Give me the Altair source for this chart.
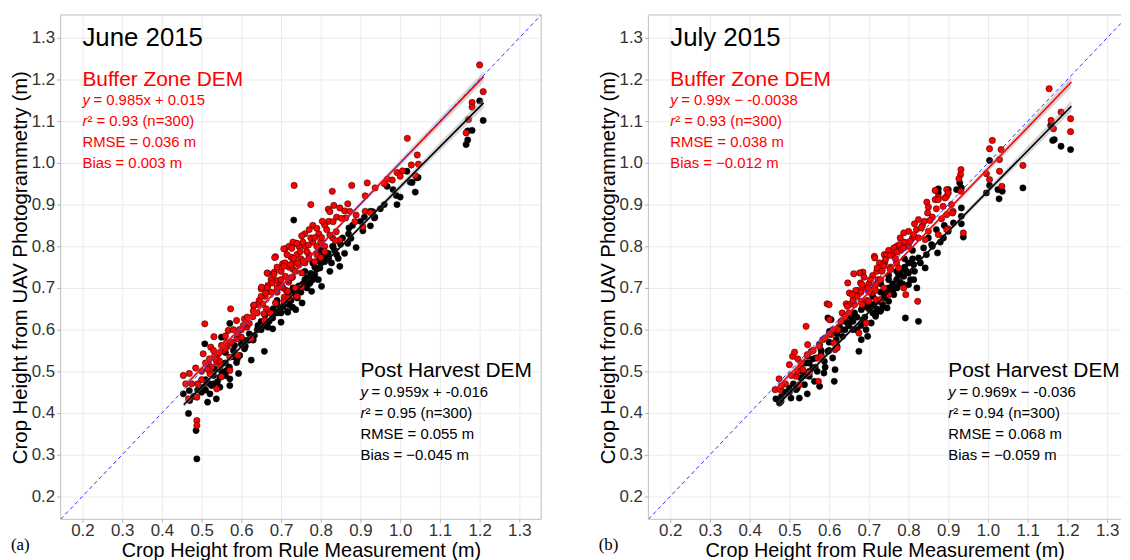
import altair as alt
import pandas as pd

FONT = "Liberation Sans"
SERIF = "Liberation Serif"
RED = "#FF0000"
FRAME = "#BDBDBD"
AX_LO, AX_HI = 0.145, 1.355
TICKS = [0.2, 0.3, 0.4, 0.5, 0.6, 0.7, 0.8, 0.9, 1.0, 1.1, 1.2, 1.3]
X_TITLE = "Crop Height from Rule Measurement (m)"
Y_TITLE = "Crop Height from UAV Photogrammetry (m)"

# ---------------- Panel (a) June 2015 : (rule, UAV) pairs
june_post = [
    (0.488, 0.290), (0.486, 0.358), (0.467, 0.399), (0.454, 0.446), (0.469, 0.454), (0.515, 0.426),
    (0.537, 0.434), (0.521, 0.446), (0.504, 0.462), (0.525, 0.466), (0.546, 0.462), (0.571, 0.466),
    (0.571, 0.482), (0.593, 0.495), (0.508, 0.566), (0.571, 0.615), (0.550, 0.582), (0.583, 0.562),
    (0.608, 0.554), (0.625, 0.527), (0.658, 0.548), (0.633, 0.586), (0.642, 0.610), (0.667, 0.606),
    (0.679, 0.628), (0.700, 0.618), (0.679, 0.602), (0.613, 0.574), (0.596, 0.538), (0.563, 0.502),
    (0.546, 0.486), (0.588, 0.521), (0.717, 0.642), (0.729, 0.654), (0.696, 0.646), (0.708, 0.662),
    (0.725, 0.670), (0.738, 0.682), (0.533, 0.506), (0.513, 0.474),
    (0.690, 0.660), (0.710, 0.670), (0.720, 0.690), (0.745, 0.705), (0.760, 0.720), (0.775, 0.735),
    (0.790, 0.745), (0.800, 0.760), (0.680, 0.650), (0.650, 0.620), (0.660, 0.635), (0.620, 0.590),
    (0.600, 0.565), (0.580, 0.550), (0.560, 0.520), (0.805, 0.775), (0.835, 0.790), (0.850, 0.805),
    (0.550, 0.500), (0.530, 0.490), (0.500, 0.450), (0.480, 0.440), (0.510, 0.480), (0.640, 0.600),
    (0.750, 0.690), (0.770, 0.710), (0.730, 0.700), (0.700, 0.640),
    (0.470, 0.430), (0.490, 0.455), (0.520, 0.470), (0.540, 0.475), (0.560, 0.490), (0.570, 0.510),
    (0.590, 0.530), (0.610, 0.560), (0.630, 0.575), (0.650, 0.600), (0.670, 0.620), (0.690, 0.640),
    (0.705, 0.655), (0.715, 0.680), (0.735, 0.690), (0.755, 0.710), (0.765, 0.725), (0.780, 0.720),
    (0.785, 0.750), (0.795, 0.765), (0.810, 0.780), (0.820, 0.770), (0.830, 0.800), (0.840, 0.780),
    (0.855, 0.820), (0.870, 0.830), (0.880, 0.850), (0.900, 0.860), (0.910, 0.870), (0.720, 0.660),
    (0.740, 0.700), (0.760, 0.740), (0.780, 0.760), (0.800, 0.790), (0.690, 0.670), (0.660, 0.610),
    (0.620, 0.575), (0.600, 0.580), (0.580, 0.535), (0.560, 0.545), (0.530, 0.470), (0.510, 0.455),
    (0.732, 0.863), (0.871, 0.844), (0.906, 0.837), (0.931, 0.883), (0.889, 0.797), (0.844, 0.771),
    (0.868, 0.807), (0.831, 0.799), (0.819, 0.783), (0.848, 0.752), (0.827, 0.760), (0.798, 0.748),
    (0.785, 0.732), (0.794, 0.720), (0.773, 0.712), (0.765, 0.700), (0.777, 0.692), (0.753, 0.664),
    (0.741, 0.676), (0.737, 0.648), (0.716, 0.644), (0.682, 0.640), (0.810, 0.763), (0.823, 0.740),
    (0.802, 0.704), (0.860, 0.783), (0.876, 0.819),
    (1.017, 0.980), (1.025, 0.954), (1.042, 0.964), (1.038, 0.930), (0.967, 0.944), (0.982, 0.936),
    (0.990, 0.922), (1.000, 0.918), (0.992, 0.900), (0.925, 0.884), (0.935, 0.868), (0.925, 0.849),
    (1.200, 1.149), (1.209, 1.102), (1.181, 1.078), (1.170, 1.077), (1.170, 1.055), (1.166, 1.044),
    (1.045, 0.965), (1.030, 0.953), (0.936, 0.870), (0.950, 0.890), (0.960, 0.900),
]
june_buffer = [
    (0.488, 0.382), (0.488, 0.370), (0.454, 0.490), (0.469, 0.495), (0.485, 0.508), (0.467, 0.434),
    (0.488, 0.438), (0.508, 0.614), (0.504, 0.542), (0.531, 0.583), (0.523, 0.558), (0.533, 0.538),
    (0.517, 0.518), (0.521, 0.494), (0.538, 0.522), (0.548, 0.514), (0.550, 0.487), (0.538, 0.458),
    (0.550, 0.562), (0.567, 0.598), (0.573, 0.650), (0.563, 0.570), (0.571, 0.534), (0.571, 0.502),
    (0.592, 0.538), (0.589, 0.578), (0.588, 0.622), (0.600, 0.582), (0.608, 0.626), (0.614, 0.606),
    (0.629, 0.631), (0.631, 0.658), (0.625, 0.578), (0.650, 0.698), (0.654, 0.662), (0.663, 0.650),
    (0.658, 0.622), (0.667, 0.706), (0.688, 0.718), (0.683, 0.738), (0.686, 0.775), (0.667, 0.735),
    (0.704, 0.758), (0.710, 0.794), (0.725, 0.774), (0.738, 0.807), (0.729, 0.726), (0.713, 0.694),
    (0.708, 0.678), (0.696, 0.706), (0.719, 0.714),
    (0.500, 0.500), (0.510, 0.520), (0.520, 0.530), (0.530, 0.550), (0.540, 0.540), (0.545, 0.525),
    (0.555, 0.550), (0.560, 0.585), (0.565, 0.560), (0.580, 0.600), (0.595, 0.600), (0.605, 0.610),
    (0.620, 0.615), (0.640, 0.640), (0.645, 0.670), (0.660, 0.680), (0.675, 0.690), (0.690, 0.700),
    (0.700, 0.720), (0.720, 0.750), (0.730, 0.760), (0.740, 0.780), (0.750, 0.770), (0.760, 0.800),
    (0.770, 0.780), (0.780, 0.810), (0.790, 0.800),
    (0.700, 0.740), (0.710, 0.760), (0.715, 0.780), (0.720, 0.800), (0.730, 0.810), (0.745, 0.800),
    (0.755, 0.810), (0.760, 0.830), (0.775, 0.820), (0.780, 0.850), (0.795, 0.830), (0.800, 0.810),
    (0.815, 0.840), (0.820, 0.860), (0.840, 0.870), (0.860, 0.885), (0.690, 0.750), (0.675, 0.720),
    (0.665, 0.700), (0.650, 0.680), (0.640, 0.660), (0.630, 0.645), (0.615, 0.630), (0.600, 0.600),
    (0.590, 0.590), (0.575, 0.570), (0.560, 0.555), (0.545, 0.545), (0.535, 0.530), (0.525, 0.510),
    (0.515, 0.505), (0.500, 0.480), (0.490, 0.470), (0.475, 0.470), (0.460, 0.470), (0.730, 0.745),
    (0.745, 0.755), (0.760, 0.760), (0.770, 0.770), (0.790, 0.780), (0.810, 0.800), (0.830, 0.820),
    (0.690, 0.690), (0.705, 0.700), (0.720, 0.720),
    (0.733, 0.946), (0.775, 0.900), (0.829, 0.932), (0.878, 0.946), (0.917, 0.952), (0.912, 0.921),
    (0.937, 0.940), (0.833, 0.898), (0.819, 0.889), (0.823, 0.883), (0.848, 0.892), (0.868, 0.902),
    (0.873, 0.884), (0.889, 0.875), (0.912, 0.884), (0.886, 0.859), (0.906, 0.847), (0.863, 0.868),
    (0.852, 0.867), (0.831, 0.859), (0.810, 0.851), (0.804, 0.860), (0.790, 0.843), (0.771, 0.840),
    (0.785, 0.821), (0.802, 0.821), (0.823, 0.827), (0.839, 0.835), (0.848, 0.815), (0.837, 0.813),
    (0.752, 0.825), (0.740, 0.807), (0.769, 0.803), (0.765, 0.787), (0.748, 0.787), (0.727, 0.795),
    (0.707, 0.794), (0.684, 0.773), (0.707, 0.752), (0.732, 0.771), (0.724, 0.756), (0.742, 0.760),
    (0.756, 0.765), (0.785, 0.763), (0.800, 0.773), (0.810, 0.787), (0.736, 0.740), (0.752, 0.736),
    (0.726, 0.725), (0.711, 0.728), (0.702, 0.704), (0.682, 0.733), (0.665, 0.736), (0.678, 0.712),
    (0.651, 0.702), (0.661, 0.688), (0.632, 0.659), (0.657, 0.638), (0.673, 0.640), (0.686, 0.664),
    (0.717, 0.692), (0.719, 0.676), (0.736, 0.700), (0.752, 0.702), (0.740, 0.680), (0.707, 0.668),
    (1.200, 1.235), (1.209, 1.171), (1.181, 1.145), (1.181, 1.134), (1.172, 1.104), (1.166, 1.072),
    (1.018, 1.059), (1.043, 1.019), (1.046, 0.997), (1.028, 0.995), (1.006, 0.981), (0.992, 0.977),
    (0.980, 0.959), (0.968, 0.961), (1.000, 0.968), (0.925, 0.881), (1.038, 0.970), (0.960, 0.950),
]

# ---------------- Panel (b) July 2015
july_post = [
    (0.466, 0.434), (0.475, 0.424), (0.479, 0.428), (0.504, 0.436), (0.525, 0.436), (0.517, 0.456),
    (0.545, 0.446), (0.538, 0.468), (0.529, 0.484), (0.550, 0.488), (0.563, 0.476), (0.576, 0.464),
    (0.559, 0.508), (0.542, 0.520), (0.546, 0.536), (0.567, 0.532), (0.588, 0.524), (0.587, 0.496),
    (0.613, 0.476), (0.615, 0.504), (0.609, 0.532), (0.597, 0.548), (0.576, 0.564), (0.601, 0.596),
    (0.618, 0.576), (0.634, 0.584), (0.626, 0.608), (0.647, 0.616), (0.655, 0.630), (0.664, 0.640),
    (0.675, 0.548), (0.697, 0.584), (0.681, 0.576), (0.693, 0.600), (0.706, 0.616), (0.685, 0.624),
    (0.681, 0.648), (0.702, 0.654), (0.718, 0.640), (0.731, 0.648), (0.727, 0.668), (0.739, 0.676),
    (0.597, 0.628), (0.605, 0.624),
    (0.875, 0.938), (0.900, 0.936), (0.921, 0.936), (0.913, 0.856), (0.900, 0.836), (0.888, 0.820),
    (0.873, 0.784), (0.858, 0.804), (0.838, 0.796), (0.842, 0.748), (0.825, 0.772), (0.813, 0.756),
    (0.800, 0.736), (0.788, 0.728), (0.779, 0.712), (0.800, 0.708), (0.771, 0.700), (0.763, 0.684),
    (0.750, 0.668), (0.746, 0.652), (0.729, 0.644), (0.717, 0.632), (0.792, 0.628), (0.825, 0.620),
    (0.813, 0.720), (0.821, 0.700),
    (1.158, 1.090), (1.163, 1.054), (1.167, 1.056), (1.184, 1.040), (1.208, 1.032), (1.004, 1.006),
    (1.004, 0.946), (1.025, 0.936), (1.036, 0.932), (1.028, 0.914), (1.088, 0.940), (0.933, 0.940),
    (0.929, 0.952), (0.933, 0.892), (0.933, 0.872), (0.933, 0.854), (0.938, 0.822), (0.996, 0.928),
    (0.875, 0.928),
    (0.620, 0.590), (0.640, 0.600), (0.660, 0.620), (0.670, 0.600), (0.690, 0.630), (0.710, 0.660),
    (0.720, 0.670), (0.730, 0.690), (0.750, 0.700), (0.760, 0.710), (0.770, 0.720), (0.780, 0.740),
    (0.790, 0.750), (0.800, 0.760), (0.810, 0.770), (0.740, 0.680), (0.760, 0.690), (0.580, 0.550),
    (0.560, 0.530), (0.530, 0.500), (0.510, 0.470), (0.490, 0.450), (0.500, 0.460), (0.550, 0.520),
    (0.600, 0.570), (0.650, 0.610), (0.700, 0.650), (0.750, 0.720), (0.850, 0.820), (0.870, 0.840),
    (0.480, 0.440), (0.500, 0.450), (0.520, 0.460), (0.540, 0.490), (0.570, 0.500), (0.590, 0.510),
    (0.600, 0.550), (0.620, 0.560), (0.630, 0.600), (0.660, 0.600), (0.680, 0.610), (0.690, 0.655),
    (0.710, 0.640), (0.720, 0.650), (0.735, 0.660), (0.745, 0.690), (0.755, 0.695), (0.765, 0.700),
    (0.775, 0.730), (0.785, 0.710), (0.795, 0.740), (0.805, 0.720), (0.815, 0.740), (0.830, 0.760),
    (0.845, 0.780), (0.860, 0.800), (0.880, 0.810), (0.890, 0.850), (0.710, 0.680), (0.730, 0.710),
    (0.750, 0.730), (0.770, 0.740), (0.790, 0.770), (0.810, 0.790), (0.550, 0.500), (0.565, 0.510),
    (0.580, 0.540), (0.640, 0.620), (0.670, 0.630),
]
july_buffer = [
    (0.464, 0.456), (0.477, 0.456), (0.474, 0.482), (0.500, 0.516), (0.508, 0.536), (0.513, 0.546),
    (0.521, 0.530), (0.529, 0.510), (0.517, 0.488), (0.525, 0.468), (0.534, 0.504), (0.546, 0.564),
    (0.542, 0.608), (0.555, 0.548), (0.550, 0.496), (0.571, 0.532), (0.580, 0.536), (0.573, 0.476),
    (0.595, 0.662), (0.601, 0.624), (0.584, 0.576), (0.612, 0.568), (0.615, 0.552), (0.620, 0.556),
    (0.605, 0.588), (0.622, 0.600), (0.633, 0.640), (0.643, 0.662), (0.651, 0.688), (0.647, 0.712),
    (0.662, 0.734), (0.674, 0.694), (0.664, 0.660), (0.685, 0.738), (0.679, 0.712), (0.681, 0.668),
    (0.695, 0.670), (0.708, 0.688), (0.714, 0.776), (0.727, 0.760), (0.702, 0.696), (0.693, 0.616),
    (0.675, 0.592), (0.651, 0.660), (0.718, 0.672), (0.739, 0.780), (0.723, 0.720),
    (0.700, 0.710), (0.710, 0.730), (0.720, 0.740), (0.730, 0.750), (0.740, 0.760), (0.745, 0.780),
    (0.760, 0.780), (0.770, 0.800), (0.780, 0.790), (0.790, 0.810), (0.800, 0.800), (0.810, 0.820),
    (0.820, 0.840), (0.835, 0.850), (0.840, 0.860), (0.860, 0.870), (0.870, 0.890), (0.690, 0.700),
    (0.680, 0.690), (0.670, 0.680), (0.660, 0.670), (0.650, 0.640), (0.640, 0.630), (0.630, 0.620),
    (0.610, 0.600), (0.600, 0.590), (0.590, 0.580), (0.575, 0.560), (0.560, 0.550), (0.545, 0.540),
    (0.530, 0.520), (0.520, 0.500), (0.505, 0.490), (0.490, 0.470), (0.480, 0.465), (0.700, 0.690),
    (0.715, 0.700), (0.730, 0.720), (0.755, 0.750), (0.770, 0.760),
    (0.867, 0.934), (0.875, 0.918), (0.896, 0.920), (0.867, 0.912), (0.846, 0.906), (0.850, 0.894),
    (0.848, 0.880), (0.887, 0.896), (0.912, 0.884), (0.896, 0.876), (0.883, 0.866), (0.854, 0.862),
    (0.825, 0.864), (0.815, 0.854), (0.832, 0.844), (0.850, 0.836), (0.800, 0.836), (0.788, 0.832),
    (0.813, 0.828), (0.825, 0.820), (0.842, 0.816), (0.779, 0.820), (0.804, 0.812), (0.777, 0.804),
    (0.763, 0.796), (0.788, 0.796), (0.750, 0.790), (0.771, 0.786), (0.754, 0.778), (0.767, 0.770),
    (0.742, 0.768), (0.715, 0.772), (0.738, 0.752), (0.721, 0.748), (0.733, 0.740), (0.754, 0.744),
    (0.775, 0.748), (0.677, 0.736), (0.688, 0.726), (0.683, 0.708), (0.704, 0.720), (0.717, 0.708),
    (0.698, 0.700), (0.667, 0.694), (0.658, 0.684), (0.717, 0.694), (0.738, 0.700), (0.750, 0.684),
    (0.729, 0.672), (0.700, 0.668), (0.683, 0.660), (0.646, 0.656), (0.788, 0.700), (0.793, 0.684),
    (0.823, 0.668), (0.900, 0.842), (0.875, 0.828), (0.600, 0.660),
    (1.154, 1.178), (1.184, 1.122), (1.159, 1.102), (1.165, 1.082), (1.208, 1.106), (1.208, 1.075),
    (1.011, 1.054), (1.004, 1.034), (1.033, 1.032), (1.029, 1.008), (1.029, 0.980), (1.088, 0.994),
    (0.996, 0.974), (1.004, 0.960), (1.035, 0.944), (0.932, 0.984), (0.931, 0.972), (0.927, 0.962),
    (0.932, 0.932), (0.896, 0.936), (0.900, 0.928), (0.892, 0.916), (0.908, 0.900), (0.875, 0.912),
    (0.911, 0.880), (0.938, 0.832), (0.896, 0.840),
]

# fitted lines: end points
june_buffer_fit = [(0.455, 0.463), (1.21, 1.207)]
june_post_fit = [(0.455, 0.420), (1.21, 1.144)]
july_buffer_fit = [(0.470, 0.462), (1.21, 1.194)]
july_post_fit = [(0.470, 0.419), (1.21, 1.136)]
band_x_mid = 0.8
band_half = [0.008, 0.003, 0.013]  # at start, middle, end

# annotation texts
june_title = "June 2015"
july_title = "July 2015"
buffer_header = "Buffer Zone DEM"
post_header = "Post Harvest DEM"
june_buffer_stats = ["= 0.985x + 0.015", "\u00b2 = 0.93 (n=300)", "RMSE = 0.036 m", "Bias = 0.003 m"]
june_post_stats = ["= 0.959x + -0.016", "\u00b2 = 0.95 (n=300)", "RMSE = 0.055 m", "Bias = \u22120.045 m"]
july_buffer_stats = ["= 0.99x \u2212 -0.0038", "\u00b2 = 0.93 (n=300)", "RMSE = 0.038 m", "Bias = \u22120.012 m"]
july_post_stats = ["= 0.969x \u2212 -0.036", "\u00b2 = 0.94 (n=300)", "RMSE = 0.068 m", "Bias = \u22120.059 m"]
buffer_anchor = (0.2, [1.2, 1.15, 1.1, 1.05, 1.0])
post_anchor = (0.9, [0.5, 0.45, 0.4, 0.35, 0.3])
title_anchor = (0.2, 1.3)

H = 508


def pts_df(pairs):
    return pd.DataFrame(pairs, columns=["x", "y"])


def band_df(fit):
    (x0, y0), (x1, y1) = fit
    ym = y0 + (y1 - y0) * (band_x_mid - x0) / (x1 - x0)
    xs = [x0, band_x_mid, x1]
    ys = [y0, ym, y1]
    return pd.DataFrame({"x": xs,
                         "lo": [v - h for v, h in zip(ys, band_half)],
                         "hi": [v + h for v, h in zip(ys, band_half)]})


def stats_layers(header, stats, anchor, color, X, Y):
    x0, lv = anchor
    base = dict(align="left", baseline="middle", font=FONT, color=color)
    hdr = alt.Chart(pd.DataFrame({"x": [x0], "y": [lv[0]], "t": [header]})).mark_text(
        fontSize=21, **base).encode(x=X, y=Y, text="t:N")
    ital = alt.Chart(pd.DataFrame({"x": [x0, x0], "y": [lv[1], lv[2]], "t": ["y", "r"]})).mark_text(
        fontSize=15, fontStyle="italic", **base).encode(x=X, y=Y, text="t:N")
    eq = alt.Chart(pd.DataFrame({"x": [x0], "y": [lv[1]], "t": [stats[0]]})).mark_text(
        fontSize=15, dx=11, **base).encode(x=X, y=Y, text="t:N")
    rr = alt.Chart(pd.DataFrame({"x": [x0], "y": [lv[2]], "t": [stats[1]]})).mark_text(
        fontSize=15, dx=5, **base).encode(x=X, y=Y, text="t:N")
    plain = alt.Chart(pd.DataFrame({"x": [x0, x0], "y": [lv[3], lv[4]], "t": stats[2:]})).mark_text(
        fontSize=15, **base).encode(x=X, y=Y, text="t:N")
    return [hdr, ital, eq, rr, plain]


def panel(post, buffer, post_fit, buffer_fit, title, buf_stats, post_stats, letter, xmax, width, right_frame):
    xs = alt.Scale(domain=[AX_LO, xmax], nice=False, zero=False)
    ys = alt.Scale(domain=[AX_LO, AX_HI], nice=False, zero=False)
    xaxis = alt.Axis(values=TICKS, format=".1f", title=X_TITLE, titleY=31.5, titleBaseline="middle",
                     titleFontSize=20, tickSize=3, labelPadding=0)
    yaxis = alt.Axis(values=TICKS, format=".1f", title=Y_TITLE, titleX=-40, titleY=H / 2,
                     titleAngle=270, titleBaseline="middle", titleAlign="center", titleFontSize=20.5)
    X = alt.X("x:Q", scale=xs, axis=xaxis)
    Y = alt.Y("y:Q", scale=ys, axis=yaxis)

    black = alt.Chart(pts_df(post)).mark_point(
        shape="circle", filled=True, size=40, fill="black", stroke="black", strokeWidth=0.5, opacity=1
    ).encode(x=X, y=Y)
    red = alt.Chart(pts_df(buffer)).mark_point(
        shape="circle", filled=True, size=40, fill=RED, stroke="#330000", strokeWidth=0.6, opacity=1
    ).encode(x=X, y=Y)

    bands = [alt.Chart(band_df(f)).mark_area(color="#8c8c8c", opacity=0.35).encode(
        x=X, y=alt.Y("lo:Q", scale=ys, axis=yaxis), y2="hi:Q") for f in (post_fit, buffer_fit)]
    line_post = alt.Chart(pts_df(post_fit)).mark_line(color="black", strokeWidth=1.6).encode(x=X, y=Y)
    line_buf = alt.Chart(pts_df(buffer_fit)).mark_line(color=RED, strokeWidth=1.6).encode(x=X, y=Y)
    one_to_one = alt.Chart(pd.DataFrame({"x": [AX_LO, AX_HI], "y": [AX_LO, AX_HI]})).mark_line(
        color="#3030FF", strokeWidth=1, strokeDash=[4, 3], clip=True).encode(x=X, y=Y)

    ttl = alt.Chart(pd.DataFrame({"x": [title_anchor[0]], "y": [title_anchor[1]], "t": [title]})).mark_text(
        align="left", baseline="middle", font=FONT, fontSize=26, color="black").encode(x=X, y=Y, text="t:N")
    texts = stats_layers(buffer_header, buf_stats, buffer_anchor, RED, X, Y) + \
        stats_layers(post_header, post_stats, post_anchor, "black", X, Y)

    one = pd.DataFrame({"k": [0]})
    frame = [
        alt.Chart(one).mark_rule(color=FRAME, strokeWidth=1).encode(
            x=alt.value(0), x2=alt.value(width), y=alt.value(0)),
        alt.Chart(one).mark_rule(color=FRAME, strokeWidth=1).encode(
            x=alt.value(0), x2=alt.value(width), y=alt.value(H)),
        alt.Chart(one).mark_rule(color=FRAME, strokeWidth=1).encode(
            x=alt.value(0), y=alt.value(0), y2=alt.value(H)),
    ]
    if right_frame:
        frame.append(alt.Chart(one).mark_rule(color=FRAME, strokeWidth=1).encode(
            x=alt.value(width), y=alt.value(0), y2=alt.value(H)))
    tag = alt.Chart(one).mark_text(align="left", baseline="middle", font=SERIF, fontSize=17,
                                   color="black").encode(
        x=alt.value(-50), y=alt.value(H + 26), text=alt.value(letter))

    return alt.layer(black, red, *bands, line_post, line_buf, one_to_one, ttl, *texts, *frame, tag
                     ).properties(width=width, height=H)


pa = panel(june_post, june_buffer, june_post_fit, june_buffer_fit, june_title,
           june_buffer_stats, june_post_stats, "(a)", AX_HI, 484, True)
pb = panel(july_post, july_buffer, july_post_fit, july_buffer_fit, july_title,
           july_buffer_stats, july_post_stats, "(b)", 1.335, 476, False)

chart = alt.hconcat(pa, pb, spacing=56).properties(
    padding={"left": 2, "top": 4, "right": 0, "bottom": 0}, background="white"
).configure_view(stroke=None).configure_axis(
    labelFont=FONT, labelFontSize=17, labelColor="#333333", labelPadding=2,
    tickColor="#B3B3B3", tickSize=4, domain=False,
    gridColor="#EBEBEB", gridWidth=1,
    titleFont=FONT, titleFontSize=20, titleFontWeight="normal", titleColor="black"
)

chart.save("out.html", embed_options={"renderer": "svg", "actions": False})
